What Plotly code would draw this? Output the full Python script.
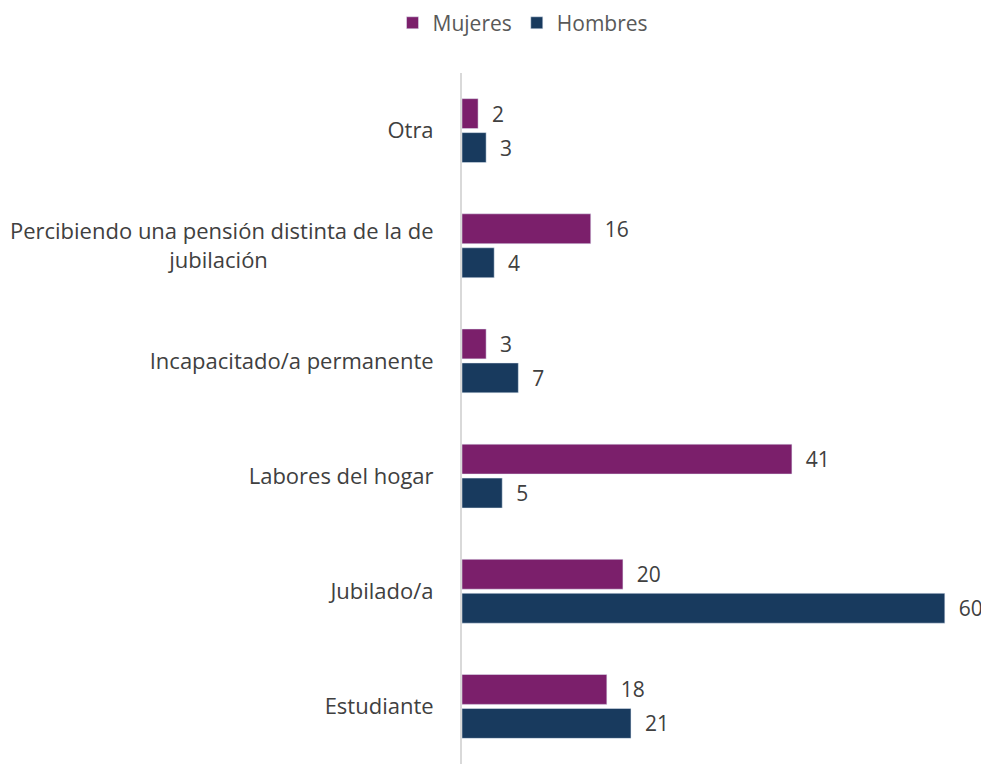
import plotly.graph_objects as go

# second line padded so it sits centred under the first, as in the source
categorias = ['Otra',
              'Percibiendo una pensión distinta de la de<br>jubilación' + '\u00a0' * 29,
              'Incapacitado/a permanente',
              'Labores del hogar',
              'Jubilado/a',
              'Estudiante']
mujeres = [2, 16, 3, 41, 20, 18]
hombres = [3, 4, 7, 5, 60, 21]

# the page adds an 8px body margin, so sizes are offset by it
fig = go.Figure()
fig.add_trace(go.Bar(y=categorias, x=mujeres, name='Mujeres', orientation='h',
                     marker=dict(color='#7B1F6B'), text=mujeres,
                     texttemplate='  %{x}', textposition='outside',
                     textfont=dict(size=21, color='#404040'), cliponaxis=False))
fig.add_trace(go.Bar(y=categorias, x=hombres, name='Hombres', orientation='h',
                     marker=dict(color='#183A5E'), text=hombres,
                     texttemplate='  %{x}', textposition='outside',
                     textfont=dict(size=21, color='#404040'), cliponaxis=False))

fig.update_layout(
    width=981, height=756,
    barmode='group', bargap=0.41, bargroupgap=0.12,
    plot_bgcolor='white', paper_bgcolor='white',
    font=dict(family='Open Sans', size=22, color='#404040'),
    margin=dict(l=454, r=12, t=65, b=0, autoexpand=False),
    legend=dict(orientation='h', xref='container', yref='container',
                x=0.525, xanchor='center', y=0.98, yanchor='middle',
                font=dict(size=21, color='#595959'), itemwidth=30),
    showlegend=True,
)
fig.update_xaxes(range=[0, 64], showgrid=False, zeroline=False,
                 showticklabels=False, showline=False, automargin=False)
fig.update_yaxes(autorange='reversed', showgrid=False, showline=True,
                 linecolor='#D9D9D9', linewidth=2, ticks='', automargin=False,
                 ticklabelstandoff=22, tickfont=dict(size=22, color='#404040'))

fig.write_html("out.html")
